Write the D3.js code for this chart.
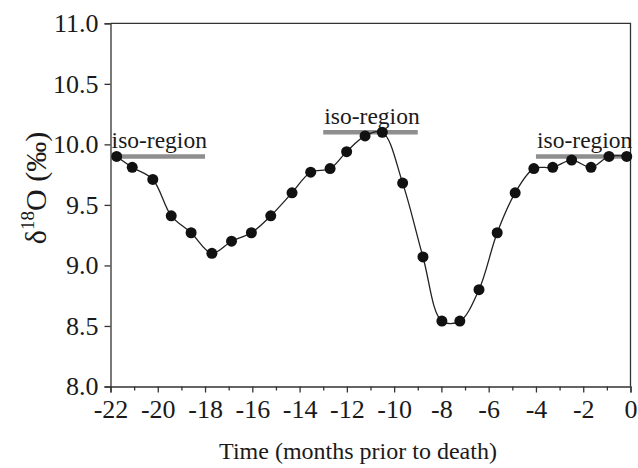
<!DOCTYPE html>
<html>
<head>
<meta charset="utf-8">
<script src="https://cdn.jsdelivr.net/npm/d3@7"></script>
<style>
  html, body { margin: 0; padding: 0; background: #fff; }
  svg text { font-family: "Liberation Serif", "Times New Roman", serif; fill: #1a1a1a; }
</style>
</head>
<body>
<svg id="chart" width="638" height="468"></svg>
<script>
// Sample times (months prior to death) and oxygen isotope values
const months = [-21.74, -21.08, -20.21, -19.43, -18.59, -17.71, -16.88, -16.04, -15.22, -14.32,
                -13.53, -12.71, -12.01, -11.23, -10.50, -9.64, -8.78, -7.98, -7.22, -6.41,
                -5.64, -4.88, -4.09, -3.29, -2.49, -1.67, -0.91, -0.16];
const d18O = [9.90, 9.81, 9.71, 9.41, 9.27, 9.10, 9.20, 9.27, 9.41, 9.60,
              9.77, 9.80, 9.94, 10.07, 10.10, 9.68, 9.07, 8.54, 8.54, 8.80,
              9.27, 9.60, 9.80, 9.81, 9.87, 9.81, 9.90, 9.90];

// Iso-regions: start month, end month, level
const isoStart = [-22, -13, -4];
const isoEnd = [-18, -9, 0];
const isoLevel = [9.9, 10.1, 9.9];
const isoLabel = ["iso-region", "iso-region", "iso-region"];

const xTicks = [-22, -20, -18, -16, -14, -12, -10, -8, -6, -4, -2, 0];
const xMinorTicks = [-21, -19, -17, -15, -13, -11, -9, -7, -5, -3, -1];
const yTicks = [8.0, 8.5, 9.0, 9.5, 10.0, 10.5, 11.0];

const svg = d3.select("#chart");
const plotLeft = 110.5, plotRight = 630.5, plotTop = 23.3, plotBottom = 386.5;

const x = d3.scaleLinear().domain([-22, 0]).range([plotLeft, plotRight]);
const y = d3.scaleLinear().domain([8, 11]).range([plotBottom, plotTop]);

const axisColor = "#333";

// Frame (top and right sides)
svg.append("path")
  .attr("d", `M${plotLeft},${plotTop}H${plotRight}V${plotBottom}`)
  .attr("fill", "none").attr("stroke", axisColor).attr("stroke-width", 1.3);

// Y axis
const yAxis = svg.append("g")
  .attr("transform", `translate(${plotLeft},0)`)
  .call(d3.axisLeft(y).tickValues(yTicks).tickFormat(d3.format(".1f")).tickSize(6).tickPadding(6));
yAxis.select(".domain").attr("stroke", axisColor).attr("stroke-width", 1.3);
yAxis.selectAll(".tick line").attr("stroke", axisColor).attr("stroke-width", 1.3);
yAxis.selectAll(".tick text").attr("font-size", 26).attr("font-family", "Liberation Serif").attr("fill", "#1a1a1a");

// X axis minor ticks
const xMinor = svg.append("g")
  .attr("transform", `translate(0,${plotBottom})`)
  .call(d3.axisBottom(x).tickValues(xMinorTicks).tickFormat("").tickSize(4));
xMinor.select(".domain").remove();
xMinor.selectAll(".tick line").attr("stroke", axisColor).attr("stroke-width", 1.3);

// X axis major ticks
const xAxis = svg.append("g")
  .attr("transform", `translate(0,${plotBottom})`)
  .call(d3.axisBottom(x).tickValues(xTicks).tickFormat(d3.format("d")).tickSize(6).tickPadding(7));
xAxis.select(".domain").attr("stroke", axisColor).attr("stroke-width", 1.3);
xAxis.selectAll(".tick line").attr("stroke", axisColor).attr("stroke-width", 1.3);
xAxis.selectAll(".tick text").attr("font-size", 26).attr("font-family", "Liberation Serif").attr("fill", "#1a1a1a")
  .text(d => String(d));

// Axis titles
svg.append("text")
  .attr("x", 358).attr("y", 459)
  .attr("text-anchor", "middle").attr("font-size", 24)
  .text("Time (months prior to death)");

const yTitle = svg.append("text")
  .attr("transform", "translate(46,188) rotate(-90)")
  .attr("text-anchor", "middle").attr("font-size", 30);
yTitle.append("tspan").text("δ");
yTitle.append("tspan").attr("font-size", 19).attr("dy", -12).text("18");
yTitle.append("tspan").attr("dy", 12).text("O (‰)");

// Iso-region bars and labels
const iso = isoStart.map((s, i) => ({ s, e: isoEnd[i], v: isoLevel[i], label: isoLabel[i] }));
svg.append("g").selectAll("line").data(iso).join("line")
  .attr("x1", d => x(d.s)).attr("x2", d => x(d.e))
  .attr("y1", d => y(d.v)).attr("y2", d => y(d.v))
  .attr("stroke", "#8e8e8e").attr("stroke-width", 4.5);
svg.append("g").selectAll("text").data(iso).join("text")
  .attr("x", d => x((d.s + d.e) / 2) + 1.5)
  .attr("y", d => y(d.v) - 8)
  .attr("text-anchor", "middle").attr("font-size", 23.5)
  .text(d => d.label);

// Smoothed line through the samples
const pts = months.map((m, i) => [m, d18O[i]]);
const line = d3.line().x(d => x(d[0])).y(d => y(d[1])).curve(d3.curveCatmullRom.alpha(0.5));
svg.append("path").attr("d", line(pts))
  .attr("fill", "none").attr("stroke", "#222").attr("stroke-width", 1.3);

// Sample points
svg.append("g").selectAll("circle").data(pts).join("circle")
  .attr("cx", d => x(d[0])).attr("cy", d => y(d[1])).attr("r", 5.5)
  .attr("fill", "#111");
</script>
</body>
</html>
